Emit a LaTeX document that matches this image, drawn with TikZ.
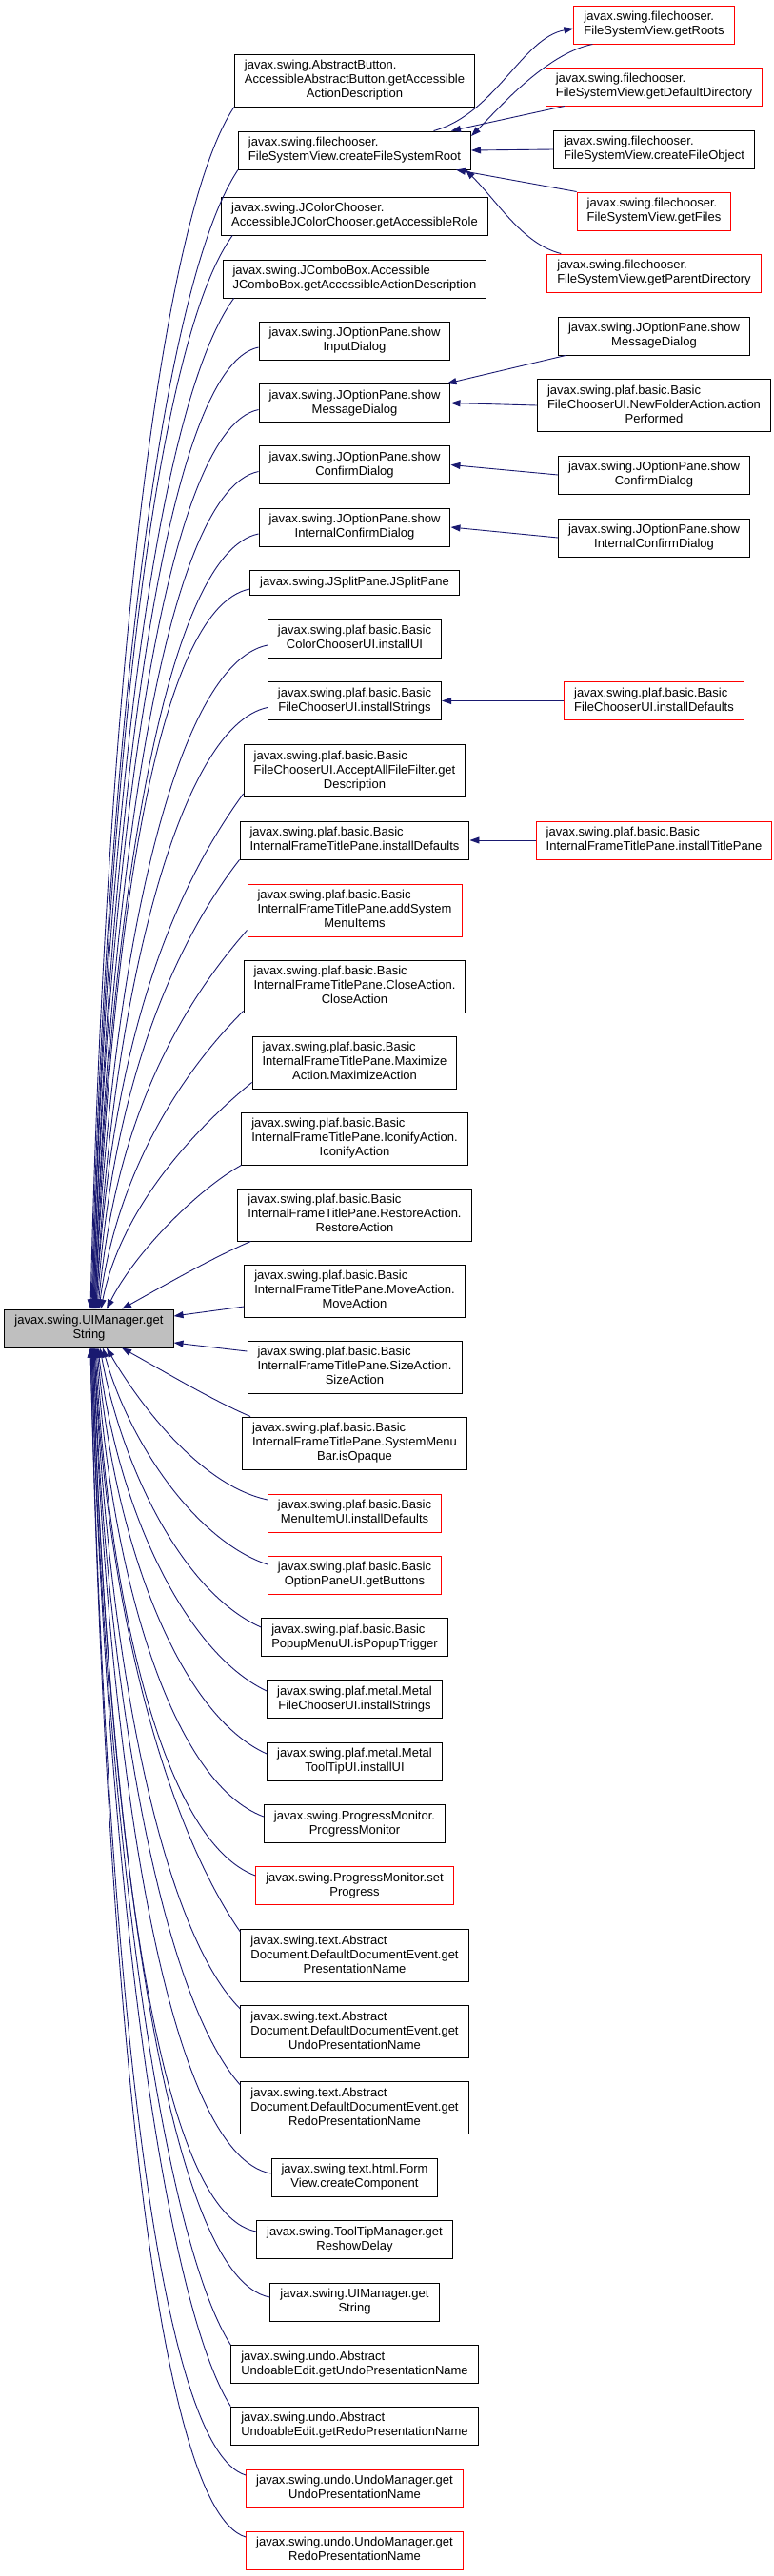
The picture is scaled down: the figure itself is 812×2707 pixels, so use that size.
\documentclass[tikz,border=0pt]{standalone}
\usepackage{fontspec}
\setmainfont{Liberation Sans}
\usetikzlibrary{arrows.meta}
\definecolor{archi}{HTML}{191970}
\definecolor{grigio}{HTML}{BFBFBF}
\definecolor{bordorosso}{HTML}{FF0000}
% Etichetta: righe allineate a sinistra, ultima riga centrata
\newcommand{\fnlabel}[2]{\begin{tabular}{@{}l@{}}#1\\\multicolumn{1}{@{}c@{}}{#2}\end{tabular}}

\begin{document}
\begin{tikzpicture}[x=1pt, y=-1pt]
	% Stili per i nodi e gli archi
	\tikzset{
		fn/.style={draw=black, line width=1pt, fill=white, font=\fontsize{13}{15}\selectfont, inner xsep=10.5pt, inner ysep=2pt, minimum height=40pt},
		fn3/.style={fn, minimum height=55pt},
		fn1/.style={fn, minimum height=26pt},
		nodoc/.style={draw=bordorosso},
		call/.style={draw=archi, line width=0.9pt, -{Triangle[length=10pt, width=7pt]}}
	}
	\useasboundingbox (0,0) rectangle (812,2707);

	% Funzione chiamata
	\node[fn, fill=grigio] (main) at (93.5,1396) {\fnlabel{javax.swing.UIManager.get}{String}};

	% Chiamanti diretti (colonna centrale)
	\node[fn3] (abtn) at (372.5,84.5) {\fnlabel{javax.swing.AbstractButton.\\AccessibleAbstractButton.getAccessible}{ActionDescription}};
	\node[fn] (fsroot) at (372.5,158) {\fnlabel{javax.swing.filechooser.}{FileSystemView.createFileSystemRoot}};
	\node[fn] (jcolor) at (372.5,227) {\fnlabel{javax.swing.JColorChooser.}{AccessibleJColorChooser.getAccessibleRole}};
	\node[fn] (jcombo) at (372.5,293) {\fnlabel{javax.swing.JComboBox.Accessible}{JComboBox.getAccessibleActionDescription}};
	\node[fn] (inputdlg) at (372.5,358) {\fnlabel{javax.swing.JOptionPane.show}{InputDialog}};
	\node[fn] (msgdlg) at (372.5,423.5) {\fnlabel{javax.swing.JOptionPane.show}{MessageDialog}};
	\node[fn] (confdlg) at (372.5,488.5) {\fnlabel{javax.swing.JOptionPane.show}{ConfirmDialog}};
	\node[fn] (iconfdlg) at (372.5,554) {\fnlabel{javax.swing.JOptionPane.show}{InternalConfirmDialog}};
	\node[fn1] (jsplit) at (372.5,612) {javax.swing.JSplitPane.JSplitPane};
	\node[fn] (colorui) at (372.5,671) {\fnlabel{javax.swing.plaf.basic.Basic}{ColorChooserUI.installUI}};
	\node[fn] (fcstrings) at (372.5,736.5) {\fnlabel{javax.swing.plaf.basic.Basic}{FileChooserUI.installStrings}};
	\node[fn3] (acceptall) at (372.5,810) {\fnlabel{javax.swing.plaf.basic.Basic\\FileChooserUI.AcceptAllFileFilter.get}{Description}};
	\node[fn] (ifdefaults) at (372.5,883) {\fnlabel{javax.swing.plaf.basic.Basic}{InternalFrameTitlePane.installDefaults}};
	\node[fn3, nodoc] (addmenu) at (372.5,956.5) {\fnlabel{javax.swing.plaf.basic.Basic\\InternalFrameTitlePane.addSystem}{MenuItems}};
	\node[fn3] (closeact) at (372.5,1036.5) {\fnlabel{javax.swing.plaf.basic.Basic\\InternalFrameTitlePane.CloseAction.}{CloseAction}};
	\node[fn3] (maxact) at (372.5,1116.5) {\fnlabel{javax.swing.plaf.basic.Basic\\InternalFrameTitlePane.Maximize}{Action.MaximizeAction}};
	\node[fn3] (iconact) at (372.5,1196.5) {\fnlabel{javax.swing.plaf.basic.Basic\\InternalFrameTitlePane.IconifyAction.}{IconifyAction}};
	\node[fn3] (restact) at (372.5,1276.5) {\fnlabel{javax.swing.plaf.basic.Basic\\InternalFrameTitlePane.RestoreAction.}{RestoreAction}};
	\node[fn3] (moveact) at (372.5,1356.5) {\fnlabel{javax.swing.plaf.basic.Basic\\InternalFrameTitlePane.MoveAction.}{MoveAction}};
	\node[fn3] (sizeact) at (372.5,1436.5) {\fnlabel{javax.swing.plaf.basic.Basic\\InternalFrameTitlePane.SizeAction.}{SizeAction}};
	\node[fn3] (sysbar) at (372.5,1516.5) {\fnlabel{javax.swing.plaf.basic.Basic\\InternalFrameTitlePane.SystemMenu}{Bar.isOpaque}};
	\node[fn, nodoc] (menuitem) at (372.5,1590) {\fnlabel{javax.swing.plaf.basic.Basic}{MenuItemUI.installDefaults}};
	\node[fn, nodoc] (optbuttons) at (372.5,1655) {\fnlabel{javax.swing.plaf.basic.Basic}{OptionPaneUI.getButtons}};
	\node[fn] (popup) at (372.5,1720.5) {\fnlabel{javax.swing.plaf.basic.Basic}{PopupMenuUI.isPopupTrigger}};
	\node[fn] (metalfc) at (372.5,1785.5) {\fnlabel{javax.swing.plaf.metal.Metal}{FileChooserUI.installStrings}};
	\node[fn] (metaltip) at (372.5,1851) {\fnlabel{javax.swing.plaf.metal.Metal}{ToolTipUI.installUI}};
	\node[fn] (progmon) at (372.5,1916.5) {\fnlabel{javax.swing.ProgressMonitor.}{ProgressMonitor}};
	\node[fn, nodoc] (setprog) at (372.5,1981.5) {\fnlabel{javax.swing.ProgressMonitor.set}{Progress}};
	\node[fn3] (docpres) at (372.5,2055) {\fnlabel{javax.swing.text.Abstract\\Document.DefaultDocumentEvent.get}{PresentationName}};
	\node[fn3] (docundo) at (372.5,2135) {\fnlabel{javax.swing.text.Abstract\\Document.DefaultDocumentEvent.get}{UndoPresentationName}};
	\node[fn3] (docredo) at (372.5,2215) {\fnlabel{javax.swing.text.Abstract\\Document.DefaultDocumentEvent.get}{RedoPresentationName}};
	\node[fn] (formview) at (372.5,2288) {\fnlabel{javax.swing.text.html.Form}{View.createComponent}};
	\node[fn] (reshow) at (372.5,2353.5) {\fnlabel{javax.swing.ToolTipManager.get}{ReshowDelay}};
	\node[fn] (uiget) at (372.5,2419) {\fnlabel{javax.swing.UIManager.get}{String}};
	\node[fn] (aueundo) at (372.5,2484.5) {\fnlabel{javax.swing.undo.Abstract}{UndoableEdit.getUndoPresentationName}};
	\node[fn] (aueredo) at (372.5,2549) {\fnlabel{javax.swing.undo.Abstract}{UndoableEdit.getRedoPresentationName}};
	\node[fn, nodoc] (umundo) at (372.5,2615) {\fnlabel{javax.swing.undo.UndoManager.get}{UndoPresentationName}};
	\node[fn, nodoc] (umredo) at (372.5,2680) {\fnlabel{javax.swing.undo.UndoManager.get}{RedoPresentationName}};

	% Chiamanti di secondo livello (colonna destra)
	\node[fn, nodoc] (roots) at (687,26) {\fnlabel{javax.swing.filechooser.}{FileSystemView.getRoots}};
	\node[fn, nodoc] (defdir) at (687,91) {\fnlabel{javax.swing.filechooser.}{FileSystemView.getDefaultDirectory}};
	\node[fn] (fileobj) at (687,157) {\fnlabel{javax.swing.filechooser.}{FileSystemView.createFileObject}};
	\node[fn, nodoc] (files) at (687,222) {\fnlabel{javax.swing.filechooser.}{FileSystemView.getFiles}};
	\node[fn, nodoc] (pardir) at (687,287) {\fnlabel{javax.swing.filechooser.}{FileSystemView.getParentDirectory}};
	\node[fn] (msgdlg2) at (687,353) {\fnlabel{javax.swing.JOptionPane.show}{MessageDialog}};
	\node[fn3] (newfolder) at (687,426) {\fnlabel{javax.swing.plaf.basic.Basic\\FileChooserUI.NewFolderAction.action}{Performed}};
	\node[fn] (confdlg2) at (687,499) {\fnlabel{javax.swing.JOptionPane.show}{ConfirmDialog}};
	\node[fn] (iconfdlg2) at (687,565) {\fnlabel{javax.swing.JOptionPane.show}{InternalConfirmDialog}};
	\node[fn, nodoc] (fcdefaults) at (687,736.5) {\fnlabel{javax.swing.plaf.basic.Basic}{FileChooserUI.installDefaults}};
	\node[fn, nodoc] (titlepane) at (687,883) {\fnlabel{javax.swing.plaf.basic.Basic}{InternalFrameTitlePane.installTitlePane}};

	% Archi verso la funzione chiamata (dall'alto)
	\draw[call] (abtn.south west) .. controls +(-80,120) and +(15,-630) .. ([xshift=1.5pt]main.north);
	\draw[call] (fsroot.south west) .. controls +(-80,120) and +(15,-600) .. ([xshift=2.5pt]main.north);
	\draw[call] ([xshift=12pt]jcolor.south west) .. controls +(-80,110) and +(15,-565) .. ([xshift=3.5pt]main.north);
	\draw[call] ([xshift=12pt]jcombo.south west) .. controls +(-80,110) and +(15,-530) .. ([xshift=3.5pt]main.north);
	\draw[call] ([yshift=-7pt]inputdlg.west) .. controls +(-100,20) and +(15,-505) .. ([xshift=4.5pt]main.north);
	\draw[call] ([yshift=-7pt]msgdlg.west) .. controls +(-100,20) and +(15,-473) .. ([xshift=4.5pt]main.north);
	\draw[call] ([yshift=-7pt]confdlg.west) .. controls +(-100,20) and +(15,-440) .. ([xshift=5.5pt]main.north);
	\draw[call] ([yshift=-7pt]iconfdlg.west) .. controls +(-100,20) and +(15,-408) .. ([xshift=5.5pt]main.north);
	\draw[call] ([yshift=-7pt]jsplit.west) .. controls +(-100,20) and +(15,-378) .. ([xshift=6.5pt]main.north);
	\draw[call] ([yshift=-7pt]colorui.west) .. controls +(-100,20) and +(15,-350) .. ([xshift=6.5pt]main.north);
	\draw[call] ([yshift=-7pt]fcstrings.west) .. controls +(-95,20) and +(15,-316) .. ([xshift=7.5pt]main.north);
	\draw[call] ([yshift=4pt]acceptall.south west) .. controls +(-80,110) and +(15,-270) .. ([xshift=7.5pt]main.north);
	\draw[call] (ifdefaults.south west) .. controls +(-70,90) and +(15,-230) .. ([xshift=8.5pt]main.north);
	\draw[call] ([yshift=7pt]addmenu.south west) .. controls +(-70,80) and +(18,-200) .. ([xshift=9.5pt]main.north);
	\draw[call] ([yshift=2pt]closeact.south west) .. controls +(-60,60) and +(20,-150) .. ([xshift=10.5pt]main.north);
	\draw[call] ([yshift=7pt]maxact.south west) .. controls +(-55,45) and +(22,-110) .. ([xshift=12.5pt]main.north);
	\draw[call] (iconact.south west) .. controls +(-45,25) and +(30,-60) .. ([xshift=18.5pt]main.north);
	\draw[call] ([xshift=14pt]restact.south west) .. controls +(-40,17) and +(45,-25) .. ([xshift=34.5pt]main.north);
	\draw[call] ([yshift=-16.5pt]moveact.west) -- ([yshift=13pt]main.east);
	\draw[call] ([yshift=16.5pt]sizeact.west) -- ([yshift=-15pt]main.east);

	% Archi verso la funzione chiamata (dal basso)
	\draw[call] ([xshift=9pt]sysbar.north west) .. controls +(-40,-17) and +(45,25) .. ([xshift=34.5pt]main.south);
	\draw[call] ([yshift=14pt]menuitem.west) .. controls +(-70,-15) and +(35,60) .. ([xshift=18.5pt]main.south);
	\draw[call] ([yshift=11pt]optbuttons.west) .. controls +(-75,-25) and +(28,100) .. ([xshift=14.5pt]main.south);
	\draw[call] ([yshift=10.5pt]popup.west) .. controls +(-80,-35) and +(24,130) .. ([xshift=11.5pt]main.south);
	\draw[call] ([yshift=8.5pt]metalfc.west) .. controls +(-85,-40) and +(20,170) .. ([xshift=9.5pt]main.south);
	\draw[call] ([yshift=8pt]metaltip.west) .. controls +(-90,-40) and +(18,210) .. ([xshift=8.5pt]main.south);
	\draw[call] ([yshift=7.5pt]progmon.west) .. controls +(-95,-35) and +(16,245) .. ([xshift=7.5pt]main.south);
	\draw[call] ([yshift=10.5pt]setprog.west) .. controls +(-95,-35) and +(15,275) .. ([xshift=6.5pt]main.south);
	\draw[call] ([yshift=-3pt]docpres.north west) .. controls +(-70,-100) and +(15,300) .. ([xshift=5.5pt]main.south);
	\draw[call] ([yshift=-4pt]docundo.north west) .. controls +(-80,-80) and +(15,340) .. ([xshift=5.5pt]main.south);
	\draw[call] ([yshift=-4pt]docredo.north west) .. controls +(-80,-90) and +(15,380) .. ([xshift=4.5pt]main.south);
	\draw[call] ([yshift=4pt]formview.west) .. controls +(-110,-20) and +(15,430) .. ([xshift=4.5pt]main.south);
	\draw[call] ([yshift=8.5pt]reshow.west) .. controls +(-110,-20) and +(15,460) .. ([xshift=3.5pt]main.south);
	\draw[call] ([yshift=5pt]uiget.west) .. controls +(-110,-20) and +(15,495) .. ([xshift=3.5pt]main.south);
	\draw[call] (aueundo.north west) .. controls +(-70,-110) and +(15,520) .. ([xshift=2.5pt]main.south);
	\draw[call] (aueredo.north west) .. controls +(-70,-110) and +(15,550) .. ([xshift=2.5pt]main.south);
	\draw[call] ([yshift=14pt]umundo.west) .. controls +(-100,-30) and +(15,590) .. ([xshift=1.5pt]main.south);
	\draw[call] ([yshift=14pt]umredo.west) .. controls +(-100,-30) and +(15,620) .. ([xshift=1.5pt]main.south);

	% Archi dai chiamanti di secondo livello
	\draw[call] ([xshift=83pt]fsroot.north) .. controls +(65,-18) and +(-54,10) .. ([yshift=-4pt]roots.west);
	\draw[call] ([xshift=20pt]roots.south west) .. controls +(-50,10) and +(25,-25) .. ([yshift=15pt]fsroot.east);
	\draw[call] ([xshift=20pt]defdir.south west) -- ([xshift=-21pt]fsroot.north east);
	\draw[call] (fileobj.west) -- (fsroot.east);
	\draw[call] (files.north west) -- ([xshift=-16pt]fsroot.south east);
	\draw[call] ([xshift=15pt]pardir.north west) .. controls +(-40,-10) and +(35,35) .. ([xshift=-6pt]fsroot.south east);
	\draw[call] ([xshift=8pt]msgdlg2.south west) -- ([xshift=-4pt]msgdlg.north east);
	\draw[call] (newfolder.west) -- (msgdlg.east);
	\draw[call] (confdlg2.west) -- (confdlg.east);
	\draw[call] (iconfdlg2.west) -- (iconfdlg.east);
	\draw[call] (fcdefaults.west) -- (fcstrings.east);
	\draw[call] (titlepane.west) -- (ifdefaults.east);
\end{tikzpicture}
\end{document}
